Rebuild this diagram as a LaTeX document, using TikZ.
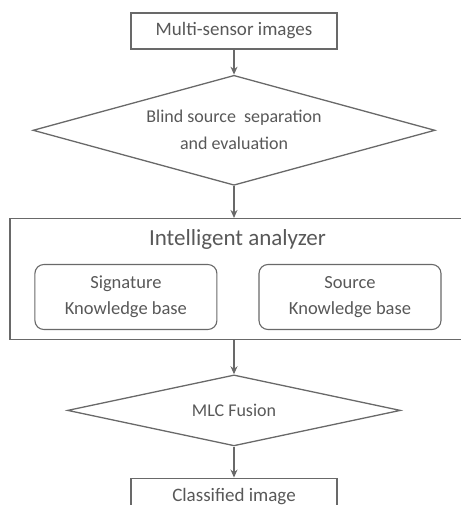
\documentclass[tikz,border=0pt]{standalone}
\usepackage{fontspec}
\setmainfont{Carlito}
\usepackage{xcolor}
\usetikzlibrary{shapes.geometric, arrows.meta, positioning}
\definecolor{linegray}{RGB}{105,105,105}
\definecolor{textgray}{RGB}{88,88,88}

\begin{document}
\begin{tikzpicture}[x=1pt, y=1pt]
\tikzstyle{process} = [rectangle, draw=linegray, line width=1.3pt, minimum width=206pt, minimum height=36pt, text=textgray, font=\fontsize{19}{27}\selectfont]
\tikzstyle{decision} = [diamond, draw=linegray, line width=1.3pt, inner sep=0pt, text=textgray, align=center, font=\fontsize{18}{27}\selectfont]
\tikzstyle{container} = [rectangle, draw=linegray, line width=1.3pt, minimum width=455pt, minimum height=121pt]
\tikzstyle{kbase} = [rectangle, rounded corners=9pt, draw=linegray, line width=1.1pt, minimum width=182pt, minimum height=65pt, text=textgray, align=center, font=\fontsize{18.5}{26}\selectfont]
\tikzstyle{arrow} = [line width=1.3pt, draw=linegray, -{Stealth[length=8pt, width=7pt]}]

\useasboundingbox (0,0) rectangle (460,-505);

\node (sensors) [process] at (234,-31) {Multi-sensor images};
\node (bss) [decision, aspect=3.65, minimum width=402pt, minimum height=110pt, below=25pt of sensors] {Blind source\ \ separation\\and evaluation};

\node (analyzer) [container, below=32pt of bss, xshift=3.5pt] {};
\node (title) [text=textgray, font=\fontsize{23}{26}\selectfont, below=8pt of analyzer.north] {Intelligent analyzer};
\node (sigkb) [kbase, anchor=north west, below right=46pt and 25pt of analyzer.north west] {Signature\\Knowledge base};
\node (srckb) [kbase, right=41pt of sigkb] {Source\\Knowledge base};

\node (mlc) [decision, aspect=4.69, minimum width=333pt, minimum height=71pt, below=34pt of analyzer, xshift=-3.5pt] {MLC Fusion};
\node (classified) [process, below=31pt of mlc] {Classified image};

\draw [arrow] (sensors) -- (bss);
\draw [arrow] (bss) -- (bss |- analyzer.north);
\draw [arrow] (analyzer.south -| mlc) -- (mlc);
\draw [arrow] (mlc) -- (classified);

\end{tikzpicture}
\end{document}
